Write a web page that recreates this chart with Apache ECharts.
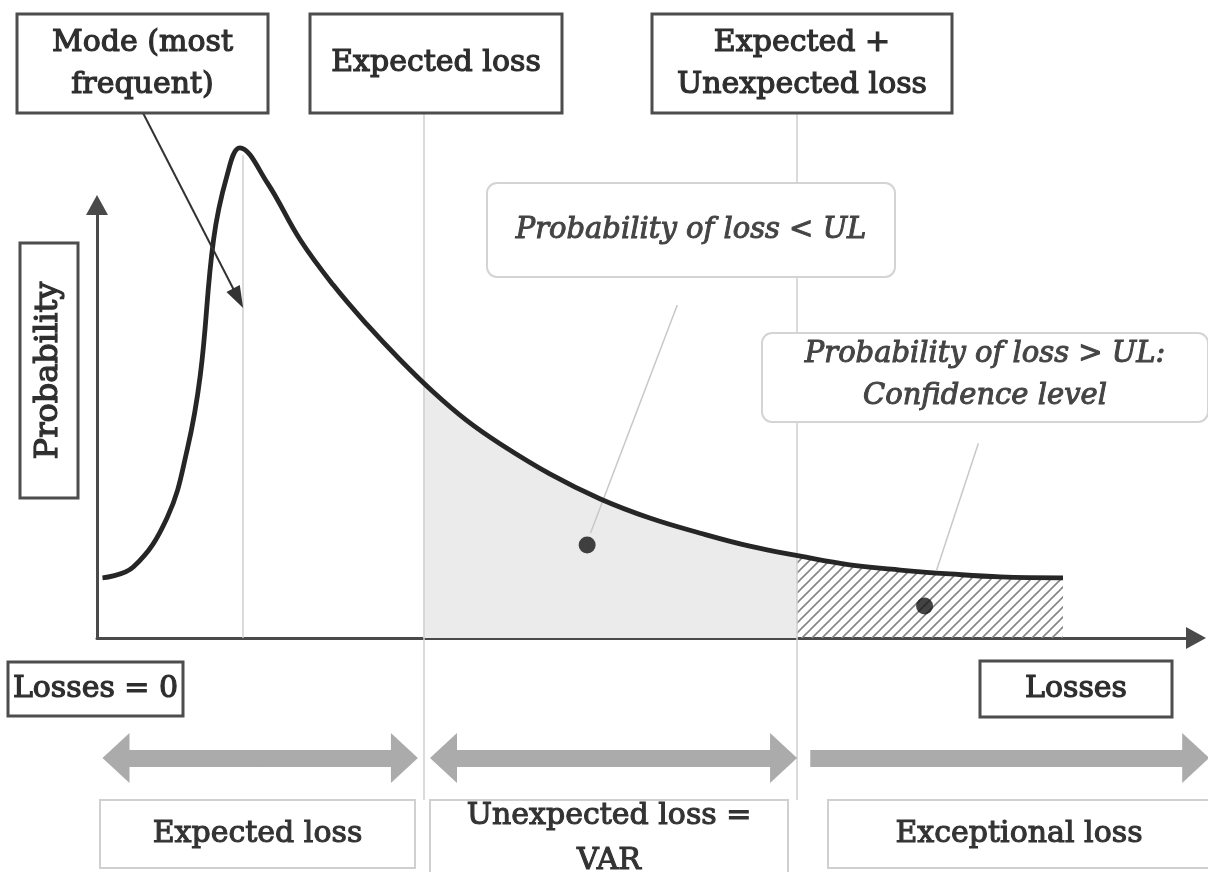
<!DOCTYPE html>
<html>
<head>
<meta charset="utf-8">
<title>Expected / unexpected loss</title>
<script src="https://cdn.jsdelivr.net/npm/echarts@6/dist/echarts.min.js"></script>
<style>
  html, body { margin: 0; padding: 0; background: #fff; }
  #main { width: 1208px; height: 872px; }
</style>
</head>
<body>
<div id="main"></div>
<script>
// loss distribution (losses 0-100 along x, probability 0-100 = top of the y axis)
var lossX = [0.5, 3.3, 6.4, 8.2, 9.4, 10.6, 11.8, 13.0, 15.5, 18.5, 21.5, 24.6, 27.6, 30.6,
             33.6, 36.7, 41.2, 45.8, 50.3, 54.9, 59.4, 64.0, 68.5, 73.1, 77.6, 82.2, 87.9];
var probY = [13.9, 16.4, 27.9, 43.4, 60.7, 91.9, 106.5, 113.2, 105.1, 91.9, 81.5, 72.3, 64.2, 56.8,
             50.3, 44.8, 37.9, 32.1, 27.7, 24.2, 21.2, 18.9, 16.9, 15.7, 14.8, 14.1, 13.9];

// shaded zones under the curve
var ulShadeX = [29.7, 33.6, 36.7, 41.2, 45.8, 50.3, 54.9, 59.4, 63.7];
var ulShadeY = [58.2, 50.3, 44.8, 37.9, 32.1, 27.7, 24.2, 21.2, 19.0];
var tailShadeX = [63.7, 68.5, 73.1, 77.6, 82.2, 87.9];
var tailShadeY = [19.0, 16.9, 15.7, 14.8, 14.1, 13.9];

// key loss levels
var modeLoss = 13.3;
var expectedLoss = 29.7;
var ulLimit = 63.7;

// dots and their callout leaders
var dots = [[44.6, 21.5], [75.3, 7.4]];
var leaders = [[[52.8, 76.9], [44.9, 24.2]], [[80.2, 45.0], [76.4, 15.7]]];
var modePointer = [[4.2, 121.2], [13.3, 76.2]];

// range arrows under the axis (tip to tip, in losses)
var bandsBoth = [[0.5, 29.2], [30.3, 63.7]];
var bandTail = [64.9, 101.2];
var bandLevel = -27.7;
var guideTop = 121.2, guideBottom = -37.4, modeTop = 111.5;

var W = 1208, H = 872;
var grid = { left: 97, top: 205, right: 12, bottom: 234 };
var xUnit = (W - grid.left - grid.right) / 100;
var yUnit = (H - grid.top - grid.bottom) / 100;

function zip(xs, ys) {
    var out = [];
    for (var i = 0; i < xs.length; i++) out.push([xs[i], ys[i]]);
    return out;
}

// move point "to" back toward "from" by px pixels (arrow symbols sit centred on the end point)
function pullBack(from, to, px) {
    var dx = (to[0] - from[0]) * xUnit, dy = (to[1] - from[1]) * yUnit;
    var len = Math.sqrt(dx * dx + dy * dy);
    return [to[0] - dx / len * px / xUnit, to[1] - dy / len * px / yUnit];
}

// hatch pattern for the tail
var hatch = document.createElement('canvas');
hatch.width = 10; hatch.height = 10;
var ctx = hatch.getContext('2d');
ctx.strokeStyle = '#858585';
ctx.lineWidth = 1.6;
ctx.beginPath();
ctx.moveTo(0, 10); ctx.lineTo(10, 0);
ctx.moveTo(-1, 1); ctx.lineTo(1, -1);
ctx.moveTo(9, 11); ctx.lineTo(11, 9);
ctx.stroke();

var serif = '"DejaVu Serif", "Liberation Serif", serif';
var boxStyles = {
    top:    { stroke: '#4d4d4d', lw: 3, r: 0, color: '#2e2e2e', size: 30, italic: false, bold: 1.2 },
    call:   { stroke: '#d4d4d4', lw: 2, r: 10, color: '#444', size: 29, italic: true, bold: 1 },
    bottom: { stroke: '#d0d0d0', lw: 2, r: 0, color: '#333', size: 30, italic: false, bold: 1.1 }
};

function box(x, y, w, h, text, kind, opts) {
    var s = boxStyles[kind];
    opts = opts || {};
    return {
        type: 'group', x: x, y: y,
        children: [
            { type: 'rect', z: 20, shape: { x: 0, y: 0, width: w, height: h, r: s.r },
              style: { fill: '#fff', stroke: s.stroke, lineWidth: s.lw } },
            { type: 'text', z: 21, x: w / 2, y: h / 2 + (opts.dy || 0), rotation: opts.rot || 0,
              style: { text: text, fill: s.color, stroke: s.color, lineWidth: s.bold,
                       fontFamily: serif, fontSize: opts.size || s.size, fontStyle: s.italic ? 'italic' : 'normal',
                       align: 'center', verticalAlign: 'middle', lineHeight: opts.lh || 42 } }
        ]
    };
}

// each double arrow = two single arrows running out from its middle (overlapping a little)
var bandData = [];
var seam = 2 / xUnit;
bandsBoth.forEach(function (b) {
    var m = (b[0] + b[1]) / 2;
    var a = [b[0], bandLevel], c = [b[1], bandLevel];
    bandData.push({ coords: [[m + seam, bandLevel], pullBack([m, bandLevel], a, 13.5)] });
    bandData.push({ coords: [[m - seam, bandLevel], pullBack([m, bandLevel], c, 13.5)] });
});
var tailStart = [bandTail[0], bandLevel], tailTip = [bandTail[1], bandLevel];
bandData.push({ coords: [tailStart, pullBack(tailStart, tailTip, 13.5)] });

var chart = echarts.init(document.getElementById('main'));
var option = {
    backgroundColor: '#fff',
    animation: false,
    grid: { left: grid.left, top: grid.top, right: grid.right, bottom: grid.bottom, outerBoundsMode: 'none' },
    xAxis: {
        type: 'value', min: 0, max: 100,
        axisLine: { show: true, symbol: ['none', 'triangle'], symbolSize: [22, 20],
                    lineStyle: { color: '#4a4a4a', width: 3 } },
        axisTick: { show: false }, axisLabel: { show: false }, splitLine: { show: false }
    },
    yAxis: {
        type: 'value', min: 0, max: 100,
        axisLine: { show: true, symbol: ['none', 'triangle'], symbolSize: [22, 20],
                    lineStyle: { color: '#4a4a4a', width: 3 } },
        axisTick: { show: false }, axisLabel: { show: false }, splitLine: { show: false }
    },
    series: [
        {
            name: 'Unexpected loss zone', type: 'line', data: zip(ulShadeX, ulShadeY),
            smooth: 0.4, symbol: 'none', silent: true, z: 1,
            lineStyle: { width: 0 }, areaStyle: { color: '#ebebeb', opacity: 1 }
        },
        {
            name: 'Exceptional loss zone', type: 'line', data: zip(tailShadeX, tailShadeY),
            smooth: 0.4, symbol: 'none', silent: true, z: 1,
            lineStyle: { width: 0 }, areaStyle: { color: { image: hatch, repeat: 'repeat' }, opacity: 1 }
        },
        {
            name: 'guides', type: 'lines', coordinateSystem: 'cartesian2d', clip: false, silent: true, z: 2,
            data: [
                { coords: [[modeLoss, modeTop], [modeLoss, 0]] },
                { coords: [[expectedLoss, guideTop], [expectedLoss, guideBottom]] },
                { coords: [[ulLimit, guideTop], [ulLimit, guideBottom]] }
            ],
            lineStyle: { color: '#cfcfcf', width: 1.5, opacity: 1 }
        },
        {
            name: 'ranges', type: 'lines', coordinateSystem: 'cartesian2d', clip: false, silent: true, z: 3,
            data: bandData, symbol: ['none', 'triangle'], symbolSize: [[50, 27], [50, 27]],
            lineStyle: { color: '#ababab', width: 17, opacity: 1, cap: 'butt' }
        },
        {
            name: 'Loss distribution', type: 'line', data: zip(lossX, probY),
            smooth: 0.4, symbol: 'none', clip: false, z: 5,
            lineStyle: { color: '#262626', width: 4.8 }
        },
        {
            name: 'leaders', type: 'lines', coordinateSystem: 'cartesian2d', clip: false, silent: true, z: 4,
            data: leaders.map(function (l) { return { coords: l }; }),
            lineStyle: { color: '#c8c8c8', width: 1.5, opacity: 1 }
        },
        {
            name: 'dots', type: 'scatter', data: dots, symbolSize: 17, z: 6,
            itemStyle: { color: '#141414' }
        },
        {
            name: 'mode pointer', type: 'lines', coordinateSystem: 'cartesian2d', clip: false, silent: true, z: 7,
            data: [{ coords: [modePointer[0], pullBack(modePointer[0], modePointer[1], 11)] }],
            symbol: ['none', 'triangle'], symbolSize: [[15, 22], [15, 22]],
            lineStyle: { color: '#333', width: 2, opacity: 1 }
        }
    ],
    graphic: [
        box(17, 14, 251, 99, 'Mode (most\nfrequent)', 'top', { dy: 1 }),
        box(310, 14, 252, 99, 'Expected loss', 'top'),
        box(652, 14, 300, 99, 'Expected +\nUnexpected loss', 'top', { dy: 1 }),
        box(20, 243, 58, 255, 'Probability', 'top', { rot: Math.PI / 2, size: 32 }),
        box(8, 662, 175, 54, 'Losses = 0', 'top'),
        box(980, 661, 192, 56, 'Losses', 'top'),
        box(487, 183, 408, 94, 'Probability of loss < UL', 'call'),
        box(762, 333, 446, 89, 'Probability of loss > UL:\nConfidence level', 'call', { dy: -2 }),
        box(100, 800, 315, 68, 'Expected loss', 'bottom'),
        box(430, 800, 358, 80, 'Unexpected loss =\nVAR', 'bottom', { dy: -1, lh: 45 }),
        box(828, 800, 382, 68, 'Exceptional loss', 'bottom')
    ]
};
chart.setOption(option);
</script>
</body>
</html>
